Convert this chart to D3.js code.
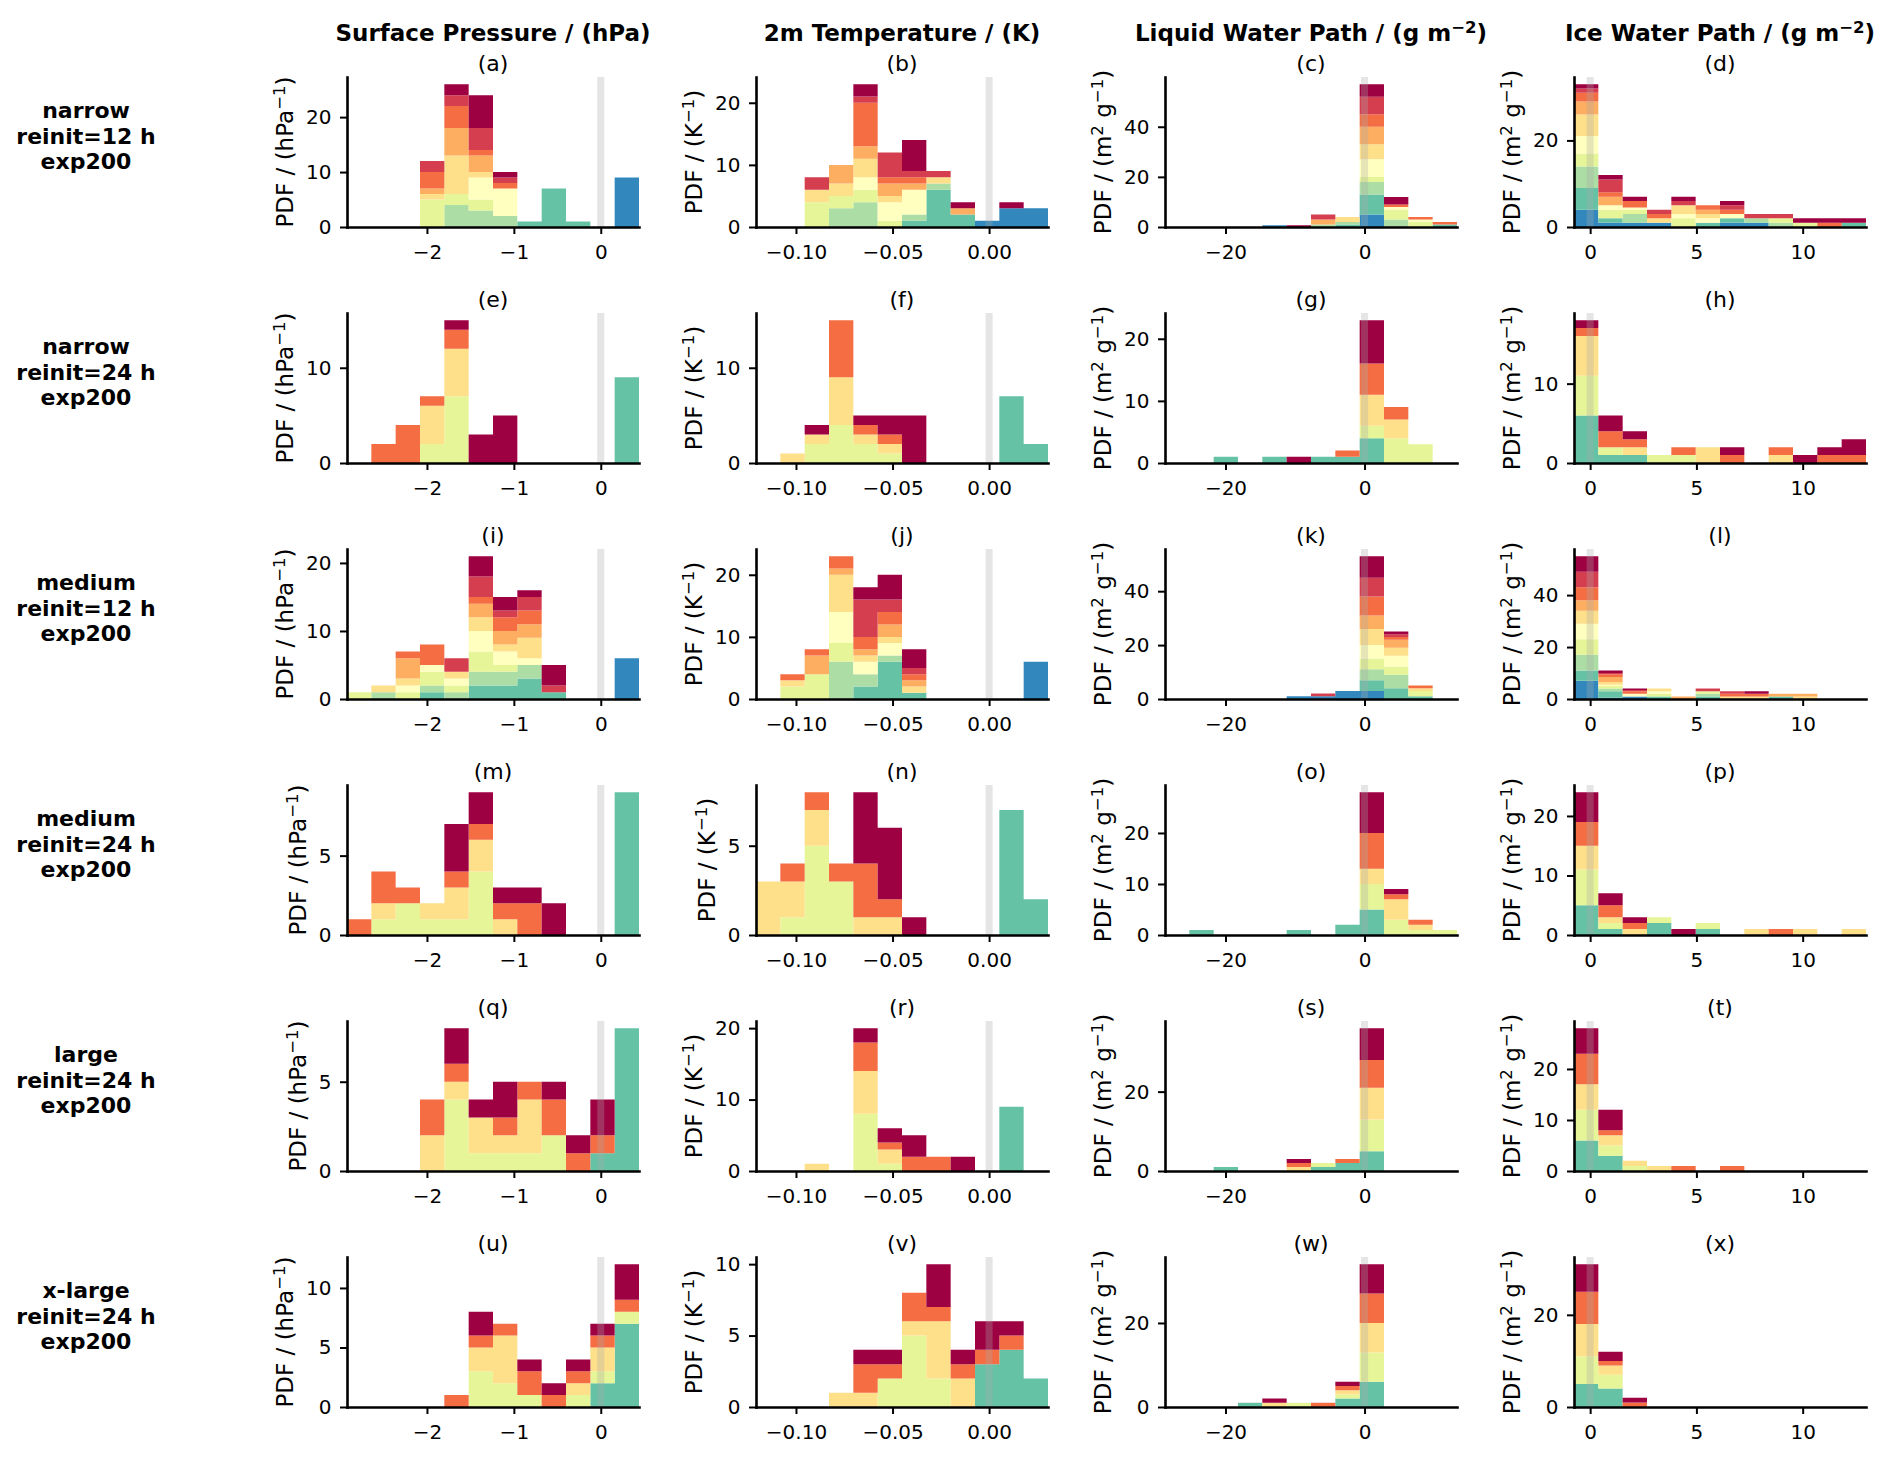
<!doctype html>
<html lang="en">
<head>
<meta charset="utf-8">
<script src="https://cdn.jsdelivr.net/npm/d3@7"></script>
<style>
    body { margin: 0; background: #fff; }
    svg text { font-family: "DejaVu Sans", sans-serif; fill: #000; }
    .axis path, .axis line { stroke: #000; }
    .axis path { stroke-width: 2.6; }
    .axis line { stroke-width: 2; }
    .axis text { font-size: 20px; }
    .head { font-size: 23px; font-weight: bold; }
    .rowlab { font-size: 22px; font-weight: bold; }
    .letter { font-size: 22px; }
    .ylab { font-size: 23px; }
</style>
</head>
<body>
<script>

// Spectral palette, index 0 = top of the stack (dark red) ... 9 = bottom (blue)
var spectral = ["#9e0142", "#d53e4f", "#f46d43", "#fdae61", "#fee08b",
                "#ffffbf", "#e6f598", "#abdda4", "#66c2a5", "#3288bd"];

var fullSeries = [0, 1, 2, 3, 4, 5, 6, 7, 8, 9];   // reinit = 12 h
var halfSeries = [0, 2, 4, 6, 8];                  // reinit = 24 h

var rowLabels = [
    ["narrow", "reinit=12 h", "exp200"],
    ["narrow", "reinit=24 h", "exp200"],
    ["medium", "reinit=12 h", "exp200"],
    ["medium", "reinit=24 h", "exp200"],
    ["large", "reinit=24 h", "exp200"],
    ["x-large", "reinit=24 h", "exp200"]
];
var rowSeries = [fullSeries, halfSeries, fullSeries, halfSeries, halfSeries, halfSeries];

// bin edges per column
var pressureEdges = [-2.92, -2.64, -2.36, -2.08, -1.80, -1.52, -1.24, -0.96, -0.68, -0.40, -0.12, 0.16, 0.44];
var temperatureEdges = [-0.1207, -0.1081, -0.0955, -0.0829, -0.0703, -0.0577, -0.0451, -0.0325, -0.0199, -0.0073, 0.0053, 0.0179, 0.0305];
var lwpEdges = [-28.7, -25.2, -21.7, -18.2, -14.7, -11.2, -7.7, -4.2, -0.7, 2.8, 6.3, 9.8, 13.3];
var iwpEdges = [-0.76, 0.385, 1.53, 2.675, 3.82, 4.965, 6.11, 7.255, 8.4, 9.545, 10.69, 11.835, 12.98];

var pressureTicks = [-2, -1, 0];
var temperatureTicks = [-0.10, -0.05, 0.00];
var lwpTicks = [-20, 0];
var iwpTicks = [0, 5, 10];

// PDF values per series (rows follow rowSeries order), 12 bins each
var panelA = [
    [0,0,0,0,2,6,1,0,0,0,0,0],
    [0,0,0,2,2,4,1,0,0,0,0,0],
    [0,0,0,3,4,1,1,0,0,0,0,0],
    [0,0,0,1,5,3,0,0,0,0,0,0],
    [0,0,0,1,7,1,0,0,0,0,0,0],
    [0,0,0,0,0,4,5,0,0,0,0,0],
    [0,0,0,5,2,2,0,0,0,0,0,0],
    [0,0,0,0,4,3,2,0,0,0,0,0],
    [0,0,0,0,0,0,0,1,7,1,0,0],
    [0,0,0,0,0,0,0,0,0,0,0,9]
];
var panelB = [
    [0,0,0,0,2,0,5,0,1,0,1,0],
    [0,0,2,0,1,4,1,1,0,0,0,0],
    [0,0,0,0,7,1,1,0,0,0,0,0],
    [0,0,0,3,2,2,1,0,1,0,0,0],
    [0,0,2,2,3,1,0,1,0,0,0,0],
    [0,0,0,0,2,3,4,0,0,0,0,0],
    [0,0,4,2,2,1,0,0,0,0,0,0],
    [0,0,0,3,4,0,1,1,0,0,0,0],
    [0,0,0,0,0,0,1,6,2,0,0,0],
    [0,0,0,0,0,0,0,0,0,1,3,3]
];
var panelC = [
    [0,0,0,0,0,0.7,0,0,5,3,0,0],
    [0,0,0,0,0,0,2,0,7,0,0,0],
    [0,0,0,0,0,0,0,0,5,1,1,1],
    [0,0,0,0,0,0,2,0,7,0,0,0],
    [0,0,0,0,0,0,0,2,6,0,0,0],
    [0,0,0,0,0,0,0,0,7,1,1,0],
    [0,0,0,0,0,0,0,0,2,4,2,0],
    [0,0,0,0,0,0,1,1,5,3,0,0],
    [0,0,0,0,0,0,0,1,8,0,0,1],
    [0,0,0,0,0.7,0,0,0,5,0,0,0]
];
var panelD = [
    [1,1,1,0,1,0,1,0,0,1,1,1],
    [1,3,0,1,1,0,1,1,1,0,0,0],
    [2,1,1.5,1,0,1,1,0,0,0,1,0],
    [3,2,0,0,0,1,0,0,0,0,0,0],
    [5,0,0,1,2,1,0,0,0,0,0,0],
    [4,1,0.5,0,1,1,1,0,0,0,0,0],
    [3,2,1,0,2,0,0,0,1,1,0,0],
    [5,0,2,0,0,0,0,1,1,0,0,0],
    [5,1,0,0,0,1,1,0,0,0,0,1],
    [4,1,1,1,0,0,1,1,0,0,0,0]
];
var panelE = [
    [0,0,0,0,1,3,5,0,0,0,0,0],
    [0,2,4,1,2,0,0,0,0,0,0,0],
    [0,0,0,4,5,0,0,0,0,0,0,0],
    [0,0,0,2,7,0,0,0,0,0,0,0],
    [0,0,0,0,0,0,0,0,0,0,0,9]
];
var panelF = [
    [0,0,1,0,1,2,5,0,0,0,0,0],
    [0,0,0,6,1,1,0,0,0,0,0,0],
    [0,1,1,5,1,1,0,0,0,0,0,0],
    [0,0,2,4,2,1,0,0,0,0,0,0],
    [0,0,0,0,0,0,0,0,0,0,7,2]
];
var panelG = [
    [0,0,0,0,0,1,0,0,7,0,0,0],
    [0,0,0,0,0,0,0,1,5,2,0,0],
    [0,0,0,0,0,0,0,0,5,3,0,0],
    [0,0,0,0,0,0,0,0,2,4,3,0],
    [0,0,1,0,1,0,1,1,4,0,0,0]
];
var panelH = [
    [1,2,1,0,0,0,1,0,0,1,1,2],
    [1,2,1,0,1,0,1,0,1,0,1,1],
    [5,0,1,0,0,2,0,0,1,0,0,0],
    [5,1,0,1,1,0,0,0,0,0,0,0],
    [6,1,1,0,0,0,0,0,0,0,0,0]
];
var panelI = [
    [0,0,0,0,0,3,2,1,3,0,0,0],
    [0,0,0,0,2,3,1,2,1,0,0,0],
    [0,0,1,3,0,1,2,2,0,0,0,0],
    [0,0,3,0,0,2,2,2,0,0,0,0],
    [0,1,1,0,1,2,1,3,0,0,0,0],
    [0,0,1,1,1,3,2,1,0,0,0,0],
    [1,0,1,2,1,3,1,0,0,0,0,0],
    [0,1,0,1,1,2,2,2,0,0,0,0],
    [0,0,0,1,0,2,2,3,1,0,0,0],
    [0,0,0,0,0,0,0,0,0,0,0,6]
];
var panelJ = [
    [0,0,0,0,2,4,3,0,0,0,0,0],
    [0,0,0,0,6,2,1,0,0,0,0,0],
    [0,1,1,2,2,2,1,0,0,0,0,0],
    [0,0,3,1,1,2,1,0,0,0,0,0],
    [0,1,0,6,1,1,1,0,0,0,0,0],
    [0,0,0,5,2,2,0,0,0,0,0,0],
    [0,2,4,3,0,0,0,0,0,0,0,0],
    [0,0,0,6,2,1,0,0,0,0,0,0],
    [0,0,0,0,2,6,1,0,0,0,0,0],
    [0,0,0,0,0,0,0,0,0,0,0,6]
];
var panelK = [
    [0,0,0,0,0,0,0,0,8,1,0,0],
    [0,0,0,0,0,0,1,0,7,1,0,0],
    [0,0,0,0,0,0,0,0,7,1,1,0],
    [0,0,0,0,0,0,0,0,5,3,0,0],
    [0,0,0,0,0,0,0,0,6,3,1,0],
    [0,0,0,0,0,0,0,0,5,4,0,0],
    [0,0,0,0,0,0,0,0,4,3,2,0],
    [0,0,0,0,0,0,0,0,4,5,0,0],
    [0,0,0,0,0,0,0,0,4,4,1,0],
    [0,0,0,0,0,1,1,3,3,0,0,0]
];
var panelL = [
    [6,1,0.5,0,0,0,0,1,0,0,0,0],
    [6,0.5,0.5,0,0,1,1,0,0,0,0,0],
    [5,1,1,0,0,0,1,1,0,0,0,0],
    [4,2,0,0,1,0,0,0,1,1,0,0],
    [5,1,0,1,0,0,1,1,0,1,0,0],
    [6,0.5,1,1,0,0,0,0,0,0,0,0],
    [6,1,0,1,0,1,0,0,0,0,0,0],
    [6,1,0,0,0,1,0,0,0,0,0,0],
    [4,2.5,0,1,0,1,0,0,1,0,0,0],
    [7,0.5,1,0,0,0,0,0,0,0,0,0]
];
var panelM = [
    [0,0,0,0,3,2,1,1,2,0,0,0],
    [1,2,1,0,1,1,1,2,0,0,0,0],
    [0,1,0,1,2,2,1,0,0,0,0,0],
    [0,1,2,1,1,4,0,0,0,0,0,0],
    [0,0,0,0,0,0,0,0,0,0,0,9]
];
var panelN = [
    [0,0,0,0,4,4,1,0,0,0,0,0],
    [0,1,1,1,3,1,0,0,0,0,0,0],
    [3,2,2,0,1,1,0,0,0,0,0,0],
    [0,1,5,3,0,0,0,0,0,0,0,0],
    [0,0,0,0,0,0,0,0,0,0,7,2]
];
var panelO = [
    [0,0,0,0,0,0,0,0,8,1,0,0],
    [0,0,0,0,0,0,0,0,7,1,1,0],
    [0,0,0,0,0,0,0,0,3,4,1,0],
    [0,0,0,0,0,0,0,0,5,3,1,1],
    [0,1,0,0,0,1,0,2,5,0,0,0]
];
var panelP = [
    [5,2,1,0,1,0,0,0,0,0,0,0],
    [4,2,1,0,0,0,0,0,1,0,0,0],
    [4,1,1,0,0,0,0,1,0,1,0,1],
    [6,1,0,1,0,1,0,0,0,0,0,0],
    [5,1,0,2,0,1,0,0,0,0,0,0]
];
var panelQ = [
    [0,0,0,0,2,1,2,0,1,1,2,0],
    [0,0,0,2,1,0,1,1,2,1,1,0],
    [0,0,0,2,1,2,1,3,0,0,0,0],
    [0,0,0,0,4,1,1,1,2,0,0,0],
    [0,0,0,0,0,0,0,0,0,0,1,8]
];
var panelR = [
    [0,0,0,0,2,2,3,0,2,0,0,0],
    [0,0,0,0,4,1,2,2,0,0,0,0],
    [0,0,1,0,6,2,0,0,0,0,0,0],
    [0,0,0,0,8,1,0,0,0,0,0,0],
    [0,0,0,0,0,0,0,0,0,0,9,0]
];
var panelS = [
    [0,0,0,0,0,1,0,0,8,0,0,0],
    [0,0,0,0,0,1,0,1,7,0,0,0],
    [0,0,0,0,0,1,0,0,8,0,0,0],
    [0,0,0,0,0,0,1,0,8,0,0,0],
    [0,0,1,0,0,0,1,2,5,0,0,0]
];
var panelT = [
    [5,4,0,0,0,0,0,0,0,0,0,0],
    [6,1,0,0,1,0,1,0,0,0,0,0],
    [5,2,1,1,0,0,0,0,0,0,0,0],
    [6,2,1,0,0,0,0,0,0,0,0,0],
    [6,3,0,0,0,0,0,0,0,0,0,0]
];
var panelU = [
    [0,0,0,0,0,2,0,1,1,1,1,3],
    [0,0,0,0,1,1,1,2,1,1,1,1],
    [0,0,0,0,0,2,4,0,0,1,2,0],
    [0,0,0,0,0,3,2,1,0,1,1,1],
    [0,0,0,0,0,0,0,0,0,0,2,7]
];
var panelV = [
    [0,0,0,0,1,1,0,3,1,2,1,0],
    [0,0,0,0,2,1,2,1,1,1,1,0],
    [0,0,0,1,1,0,1,4,2,0,0,0],
    [0,0,0,0,0,2,5,2,0,0,0,0],
    [0,0,0,0,0,0,0,0,0,3,4,2]
];
var panelW = [
    [0,0,0,0,1,0,0,1,7,0,0,0],
    [0,0,0,0,0,0,1,1,7,0,0,0],
    [0,0,0,0,1,0,0,1,7,0,0,0],
    [0,0,0,0,0,1,0,1,7,0,0,0],
    [0,0,0,1,0,0,0,2,6,0,0,0]
];
var panelX = [
    [6,2,1,0,0,0,0,0,0,0,0,0],
    [7,1,1,0,0,0,0,0,0,0,0,0],
    [7,2,0,0,0,0,0,0,0,0,0,0],
    [6,3,0,0,0,0,0,0,0,0,0,0],
    [5,4,0,0,0,0,0,0,0,0,0,0]
];

var panels = [
    [panelA, panelB, panelC, panelD],
    [panelE, panelF, panelG, panelH],
    [panelI, panelJ, panelK, panelL],
    [panelM, panelN, panelO, panelP],
    [panelQ, panelR, panelS, panelT],
    [panelU, panelV, panelW, panelX]
];

var minus = function (s) { return s.replace(/-/g, "\u2212"); };

var columns = [
    {title: ["Surface Pressure / (hPa)"], edges: pressureEdges, ticks: pressureTicks,
     fmt: function (v) { return minus(d3.format("d")(v)); },
     ylab: [["PDF / (hPa", 0], ["\u22121", 1], [")", 0]]},
    {title: ["2m Temperature / (K)"], edges: temperatureEdges, ticks: temperatureTicks,
     fmt: function (v) { return minus(d3.format(".2f")(v)); },
     ylab: [["PDF / (K", 0], ["\u22121", 1], [")", 0]]},
    {title: ["Liquid Water Path / (g m", "\u22122", ")"], edges: lwpEdges, ticks: lwpTicks,
     fmt: function (v) { return minus(d3.format("d")(v)); },
     ylab: [["PDF / (m", 0], ["2", 1], [" g", 0], ["\u22121", 1], [")", 0]]},
    {title: ["Ice Water Path / (g m", "\u22122", ")"], edges: iwpEdges, ticks: iwpTicks,
     fmt: function (v) { return minus(d3.format("d")(v)); },
     ylab: [["PDF / (m", 0], ["2", 1], [" g", 0], ["\u22121", 1], [")", 0]]}
];

var W = 1892, H = 1459;
var colLeft = [347, 756, 1165, 1574], axW = 292;
var rowTop = [77, 313, 549, 785, 1021, 1257], axH = 150;
var tickLen = 7;

var svg = d3.select("body").append("svg")
    .attr("width", W).attr("height", H);

// adds text made of [string, isSuperscript] parts
function richText(sel, parts) {
    parts.forEach(function (p) {
        var t = sel.append("tspan").text(p[0]);
        if (p[1]) t.attr("font-size", "0.72em").attr("dy", "-0.5em");
        else if (sel.selectAll("tspan").size() > 1) t.attr("dy", "0.36em");
    });
}

// column headers
columns.forEach(function (col, c) {
    var t = svg.append("text").attr("class", "head")
        .attr("x", colLeft[c] + axW / 2).attr("y", 41)
        .attr("text-anchor", "middle");
    if (col.title.length === 1) t.text(col.title[0]);
    else richText(t, [[col.title[0], 0], [col.title[1], 1], [col.title[2], 0]]);
});

// row labels
rowLabels.forEach(function (lines, r) {
    lines.forEach(function (line, k) {
        svg.append("text").attr("class", "rowlab")
            .attr("x", 86).attr("y", rowTop[r] + 41 + k * 25.5)
            .attr("text-anchor", "middle")
            .text(line);
    });
});

function yTickValues(top) {
    var steps = [1, 2, 5, 10, 20, 50, 100];
    for (var i = 0; i < steps.length; i++) {
        if (Math.floor(top / steps[i]) + 1 <= 3) return d3.range(0, top + 1e-9, steps[i]);
    }
    return [0];
}

var letters = "abcdefghijklmnopqrstuvwx";

panels.forEach(function (row, r) {
    row.forEach(function (data, c) {
        var col = columns[c],
            edges = col.edges,
            series = rowSeries[r],
            nBins = edges.length - 1;

        var g = svg.append("g")
            .attr("transform", "translate(" + colLeft[c] + "," + rowTop[r] + ")");

        var table = d3.range(nBins).map(function (i) {
            var o = {};
            data.forEach(function (vals, s) { o[s] = vals[i]; });
            return o;
        });
        var order = d3.range(data.length).reverse();   // last series at the bottom
        var layers = d3.stack().keys(order)(table);
        var total = d3.max(table, function (b) { return d3.sum(order, function (k) { return b[k]; }); });

        var x = d3.scaleLinear().domain([edges[0], edges[nBins]]).range([0, axW]);
        var y = d3.scaleLinear().domain([0, total * 1.05]).range([axH, 0]);

        var area = d3.area()
            .curve(d3.curveStepAfter)
            .x(function (d, i) { return x(edges[i]); })
            .y0(function (d) { return y(d[0]); })
            .y1(function (d) { return y(d[1]); });

        g.selectAll("path.layer")
            .data(layers)
            .join("path")
            .attr("class", "layer")
            .attr("fill", function (L) { return spectral[series[+L.key]]; })
            .attr("d", function (L) {
                return area(edges.map(function (e, i) { return L[Math.min(i, nBins - 1)]; }));
            });

        // zero marker
        g.append("rect")
            .attr("x", x(0) - 3.5).attr("y", 0)
            .attr("width", 7).attr("height", axH)
            .attr("fill", "#aaa").attr("opacity", 0.3);

        g.append("g").attr("class", "axis")
            .attr("transform", "translate(0," + axH + ")")
            .call(d3.axisBottom(x).tickValues(col.ticks).tickFormat(col.fmt)
                .tickSize(tickLen).tickSizeOuter(0).tickPadding(11));

        var yAxis = g.append("g").attr("class", "axis")
            .call(d3.axisLeft(y).tickValues(yTickValues(total * 1.05)).tickFormat(d3.format("d"))
                .tickSize(tickLen).tickSizeOuter(0).tickPadding(8.5));

        g.selectAll(".axis text").attr("font-family", null).attr("font-size", null);
        g.selectAll(".axis .domain").attr("stroke-linecap", "square");

        var maxW = 0;
        yAxis.selectAll("text").each(function () {
            maxW = Math.max(maxW, this.getComputedTextLength());
        });

        var yl = g.append("text").attr("class", "ylab")
            .attr("text-anchor", "middle")
            .attr("transform", "translate(" + (-(tickLen + 8.5 + maxW + 21)) + "," + (axH / 2) + ") rotate(-90)")
            .attr("dy", "0.35em");
        richText(yl, col.ylab);

        g.append("text").attr("class", "letter")
            .attr("x", axW / 2).attr("y", -6)
            .attr("text-anchor", "middle")
            .text("(" + letters[r * 4 + c] + ")");
    });
});

</script>
</body>
</html>
